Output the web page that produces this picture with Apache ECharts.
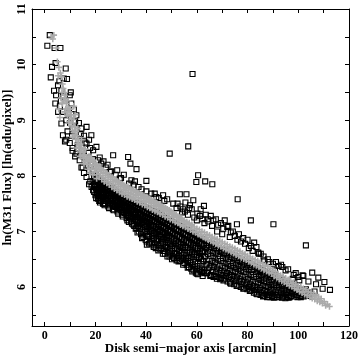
<!DOCTYPE html>
<html>
<head>
<meta charset="utf-8">
<script src="https://cdn.jsdelivr.net/npm/echarts@6/dist/echarts.min.js"></script>
<style>
  html, body { margin: 0; padding: 0; background: #fff; }
  #chart { width: 360px; height: 355px; }
</style>
</head>
<body>
<div id="chart"></div>
<script>
// tick positions / labels
var xTicks = [0, 10, 20, 30, 40, 50, 60, 70, 80, 90, 100, 110, 120]
var xLabels = [0, 20, 40, 60, 80, 100, 120]
var yTicks = [5.5, 6, 6.5, 7, 7.5, 8, 8.5, 9, 9.5, 10, 10.5, 11]
var yLabels = [6, 7, 8, 9, 10, 11]

// open squares, flat x,y lists
var sqSteep = [
  2,10.53, 1.05,10.34, 3.9,10.3, 6.2,10.3, 4.3,10.03, 2.9,9.96, 8.3,9.93, 2.4,9.77, 8.8,9.74,
  5.25,9.63, 3.7,9.53, 6.6,9.53, 10.3,9.5, 4.5,9.45, 7.2,9.43, 9.9,9.45, 4.2,9.3, 6,9.25,
  8.1,9.35, 10.5,9.3, 7,9.15, 11.5,9.2, 5.3,9.15, 12.5,9.09, 6.6,8.94, 8.5,9.0, 10,8.95,
  12,8.98, 13.5,8.95, 7.2,8.73, 9,8.8, 11,8.85, 14.5,8.85, 16.5,8.88, 8,8.62, 9.9,8.59,
  12,8.7, 15.5,8.72, 18.4,8.73, 11,8.5, 13,8.55, 16.5,8.58, 17.5,8.65, 20.4,8.52, 12.5,8.4,
  14.5,8.45, 19.1,8.46, 13.8,8.28, 15.5,8.35, 21,8.28, 21.7,8.33, 15,8.15, 16.5,7.98, 17.5,8.1,
  19,8.3, 18,7.9, 19.1,7.74, 20,7.85, 21,7.59, 22,7.7, 23,7.5, 8.5,8.65, 11,8.45, 12,8.35,
  14.5,8.15, 15.5,8.05, 17.5,7.85, 18.5,7.8, 20,7.65, 22,7.55, 5.8,9.7, 7.5,9.75, 6.4,9.35,
  9.3,9.12, 10.8,8.72, 13.2,8.62, 14.2,8.75, 16,8.6, 17.3,8.42, 18.3,8.2, 16.8,8.25, 17.9,8.5
]

var sqAbove = [
  27,8.37, 32.9,8.34, 33.8,8.22, 36.2,8.12, 25.7,8.07, 29.6,7.95, 34.2,7.92, 40.1,7.91,
  49.3,8.4, 56.6,8.53, 58.3,9.83, 60.5,8.01, 59.8,7.89, 63.3,7.9, 66.1,7.85, 33.3,7.86,
  43.4,7.68, 46.7,7.65, 40.1,7.72, 53.3,7.67, 55.9,7.67, 58.6,7.56, 50.7,7.5, 62.8,7.46,
  76.1,7.58, 81.3,7.2, 90.2,7.13, 75.8,7.13, 72.4,7.1, 103,6.75, 81.3,6.74, 84.5,6.6,
  86.6,6.48, 93.7,6.36, 97.8,6.15, 101.7,6.21, 105.5,6.26, 107.9,6.17, 110.3,6.09, 112.5,5.95,
  109.6,5.97, 106.4,5.92, 103,5.96, 100.4,6.12, 87.8,6.29, 90.8,6.3,
  22.3,8.22, 23.2,8.26, 24.1,8.15, 24.8,8.2, 26.2,8.08, 28,8.02, 28.6,8.1, 30.1,7.96,
  31.2,8.02, 35,7.84, 35.6,7.9, 37,7.8, 38.2,7.76, 42,7.68, 44,7.62, 45,7.6, 47.2,7.55,
  48.3,7.58, 52,7.42, 52.4,7.5, 53.5,7.45, 54.2,7.34, 54.5,7.4, 55.3,7.36, 55.5,7.52,
  56.5,7.3, 57,7.42, 57.3,7.47, 58,7.4, 59,7.25, 60,7.2, 60.2,7.32, 61.2,7.28, 61.5,7.4,
  62.2,7.22, 63,7.15, 63.5,7.3, 64.3,7.22, 64.5,7.18, 65.5,7.28, 66,7.1, 66.5,7.2, 67.5,7.22,
  68,7.0, 68.4,7.12, 69.5,7.15, 70,6.95, 70.4,7.05, 71,7.2, 72,7.08, 73,6.9, 73.4,6.98,
  74.2,7.0, 75,6.92, 76,6.85, 76.6,6.95, 77.4,6.82, 78.3,6.88, 79,6.78, 80,6.85, 80.5,6.7,
  82,6.65, 82.6,6.8, 83.5,6.72, 84.2,6.62, 85.2,6.6, 86.3,6.55, 88,6.5, 88.6,6.45, 90,6.42,
  91.2,6.45, 92.3,6.38, 93.2,6.4, 95,6.3, 96,6.32, 98.2,6.22, 99,6.25, 100,6.18, 102,6.2,
  104,6.1, 107,6.05
]

var sqCore = [
  19.2,8.08, 19.5,7.98, 18.9,7.9, 19.4,7.82,
  20.1,8.02, 20.4,7.94, 19.8,7.85, 20.2,7.77, 20.6,7.68,
  21.0,7.97, 21.3,7.9, 20.8,7.8, 21.2,7.72, 21.5,7.63,
  21.9,7.93, 22.2,7.86, 21.7,7.78, 22.1,7.7, 22.4,7.6, 21.8,7.52,
  22.8,7.9, 23.1,7.82, 22.6,7.75, 23.0,7.66, 23.3,7.58,
  23.7,7.87, 24.0,7.8, 23.5,7.71, 23.9,7.63, 24.2,7.55, 23.6,7.47,
  24.6,7.84, 24.9,7.76, 24.4,7.68, 24.8,7.6, 25.1,7.52,
  25.5,7.81, 25.8,7.73, 25.3,7.66, 25.7,7.58, 26.0,7.5, 25.4,7.42,
  26.4,7.78, 26.7,7.7, 26.2,7.63, 26.6,7.55, 26.9,7.47,
  27.3,7.75, 27.6,7.68, 27.1,7.6, 27.5,7.52, 27.8,7.44, 27.2,7.38,
  28.2,7.72, 28.5,7.65, 28.0,7.57, 28.4,7.5, 28.7,7.42,
  29.1,7.7, 29.4,7.62, 28.9,7.55, 29.3,7.47, 29.6,7.39, 29.0,7.32,
  30.0,7.67, 30.3,7.6, 29.8,7.52, 30.2,7.44, 30.5,7.36,
  30.9,7.64, 31.2,7.57, 30.7,7.49, 31.1,7.42, 31.4,7.33, 30.8,7.27,
  31.8,7.62, 32.1,7.54, 31.6,7.47, 32.0,7.39, 32.3,7.3,
  32.7,7.59, 33.0,7.52, 32.5,7.44, 32.9,7.37, 33.2,7.28, 32.6,7.2,
  33.6,7.57, 33.9,7.5, 33.4,7.42, 33.8,7.34, 34.1,7.25,
  34.5,7.55, 34.8,7.47, 34.3,7.4, 34.7,7.32, 35.0,7.23, 34.4,7.14,
  35.4,7.53, 35.7,7.45, 35.2,7.38, 35.6,7.3, 35.9,7.2, 35.3,7.1,
  36.3,7.51, 36.6,7.43, 36.1,7.35, 36.5,7.27, 36.8,7.17, 36.2,7.06,
  37.2,7.49, 37.5,7.41, 37.0,7.33, 37.4,7.25, 37.7,7.15, 37.1,7.0,
  38.1,7.47, 38.4,7.39, 37.9,7.31, 38.3,7.22, 38.6,7.12, 38.0,6.95,
  39.0,7.45, 39.3,7.37, 38.8,7.28, 39.2,7.2, 39.5,7.08, 38.9,6.9,
  39.9,7.43, 40.2,7.35, 39.7,7.26, 40.1,7.17, 40.4,7.05, 39.8,6.85, 40.3,6.76,
  40.8,7.41, 41.1,7.33, 40.6,7.24, 41.0,7.15, 41.3,7.02, 40.7,6.92,
  41.7,7.39, 42.0,7.31, 41.5,7.22, 41.9,7.12, 42.2,7.0, 41.6,6.8,
  42.6,7.37, 42.9,7.29, 42.4,7.2, 42.8,7.1, 43.1,6.97, 42.5,6.86, 43.0,6.72,
  43.5,7.35, 43.8,7.27, 43.3,7.18, 43.7,7.08, 44.0,6.95, 43.4,6.78,
  44.4,7.33, 44.7,7.25, 44.2,7.16, 44.6,7.05, 44.9,6.92, 44.3,6.82, 44.8,6.66,
  45.3,7.31, 45.6,7.23, 45.1,7.13, 45.5,7.02, 45.8,6.9, 45.2,6.75,
  46.2,7.29, 46.5,7.2, 46.0,7.1, 46.4,7.0, 46.7,6.87, 46.1,6.7, 46.6,6.6,
  47.1,7.26, 47.4,7.17, 46.9,7.08, 47.3,6.97, 47.6,6.84, 47.0,6.65,
  48.0,7.24, 48.3,7.15, 47.8,7.05, 48.2,6.94, 48.5,6.8, 47.9,6.72, 48.4,6.55,
  48.9,7.21, 49.2,7.12, 48.7,7.02, 49.1,6.92, 49.4,6.77, 48.8,6.62,
  49.8,7.19, 50.1,7.1, 49.6,7.0, 50.0,6.89, 50.3,6.74, 49.7,6.58, 50.2,6.5,
  50.7,7.17, 51.0,7.07, 50.5,6.97, 50.9,6.86, 51.2,6.7, 50.6,6.55,
  51.6,7.14, 51.9,7.05, 51.4,6.95, 51.8,6.83, 52.1,6.68, 51.5,6.6, 52.0,6.48,
  52.5,7.12, 52.8,7.02, 52.3,6.92, 52.7,6.8, 53.0,6.65, 52.4,6.52,
  53.4,7.1, 53.7,7.0, 53.2,6.9, 53.6,6.78, 53.9,6.62, 53.3,6.47,
  54.3,7.07, 54.6,6.97, 54.1,6.87, 54.5,6.75, 54.8,6.58, 54.2,6.5,
  55.2,7.05, 55.5,6.95, 55.0,6.84, 55.4,6.72, 55.7,6.55, 55.1,6.43,
  56.1,7.03, 56.4,6.93, 55.9,6.82, 56.3,6.7, 56.6,6.52, 56.0,6.4,
  57.0,7.0, 57.3,6.9, 56.8,6.79, 57.2,6.66, 57.5,6.48, 56.9,6.36,
  57.9,6.98, 58.2,6.88, 57.7,6.76, 58.1,6.63, 58.4,6.45, 57.8,6.33,
  58.8,6.95, 59.1,6.85, 58.6,6.73, 59.0,6.6, 59.3,6.42, 58.7,6.3,
  59.7,6.93, 60.0,6.83, 59.5,6.7, 59.9,6.57, 60.2,6.38, 59.6,6.26,
  60.6,6.9, 60.9,6.8, 60.4,6.68, 60.8,6.54, 61.1,6.35, 60.5,6.23,
  61.5,6.88, 61.8,6.77, 61.3,6.65, 61.7,6.5, 62.0,6.32,
  62.4,6.86, 62.7,6.75, 62.2,6.62, 62.6,6.47, 62.9,6.3, 62.3,6.2
]

var sqCore2 = [
  19.6,7.95, 19.7,7.83, 19.5,7.71,
  20.5,7.9, 20.7,7.74, 20.3,7.6,
  21.4,7.88, 21.6,7.76, 21.2,7.66, 21.5,7.55,
  22.3,7.84, 22.5,7.68, 22.1,7.56,
  23.2,7.8, 23.4,7.7, 23.0,7.62, 23.3,7.5,
  24.1,7.78, 24.3,7.65, 23.9,7.5,
  25.0,7.76, 25.2,7.64, 24.8,7.55, 25.1,7.45,
  25.9,7.72, 26.1,7.6, 25.7,7.48,
  26.8,7.7, 27.0,7.58, 26.6,7.5, 26.9,7.4,
  27.7,7.66, 27.9,7.55, 27.5,7.46,
  28.6,7.64, 28.8,7.53, 28.4,7.45, 28.7,7.36,
  29.5,7.6, 29.7,7.5, 29.3,7.42,
  30.4,7.58, 30.6,7.47, 30.2,7.38, 30.5,7.3,
  31.3,7.55, 31.5,7.45, 31.1,7.35,
  32.2,7.53, 32.4,7.42, 32.0,7.33, 32.3,7.24,
  33.1,7.5, 33.3,7.4, 32.9,7.3, 33.2,7.17,
  34.0,7.48, 34.2,7.38, 33.8,7.27, 34.1,7.18,
  34.9,7.46, 35.1,7.35, 34.7,7.26, 35.0,7.12,
  35.8,7.44, 36.0,7.33, 35.6,7.22, 35.9,7.05,
  36.7,7.42, 36.9,7.31, 36.5,7.2, 36.8,7.1, 36.6,6.98,
  37.6,7.4, 37.8,7.29, 37.4,7.18, 37.7,7.05,
  38.5,7.38, 38.7,7.27, 38.3,7.15, 38.6,7.0, 38.4,6.88,
  39.4,7.35, 39.6,7.24, 39.2,7.12, 39.5,6.98,
  40.3,7.33, 40.5,7.22, 40.1,7.1, 40.4,6.95, 40.2,6.82,
  41.2,7.31, 41.4,7.2, 41.0,7.08, 41.3,6.9, 41.1,6.78,
  42.1,7.29, 42.3,7.18, 41.9,7.05, 42.2,6.92,
  43.0,7.27, 43.2,7.16, 42.8,7.03, 43.1,6.88, 42.9,6.75,
  43.9,7.25, 44.1,7.13, 43.7,7.0, 44.0,6.85, 43.8,6.7,
  44.8,7.22, 45.0,7.11, 44.6,6.98, 44.9,6.86,
  45.7,7.2, 45.9,7.08, 45.5,6.95, 45.8,6.8, 45.6,6.68,
  46.6,7.18, 46.8,7.06, 46.4,6.93, 46.7,6.78,
  47.5,7.16, 47.7,7.04, 47.3,6.9, 47.6,6.75, 47.4,6.6,
  48.4,7.13, 48.6,7.01, 48.2,6.88, 48.5,6.7,
  49.3,7.11, 49.5,6.99, 49.1,6.85, 49.4,6.68, 49.2,6.55,
  50.2,7.09, 50.4,6.96, 50.0,6.82, 50.3,6.65,
  51.1,7.07, 51.3,6.94, 50.9,6.8, 51.2,6.62, 51.0,6.52,
  52.0,7.04, 52.2,6.92, 51.8,6.77, 52.1,6.6,
  52.9,7.02, 53.1,6.89, 52.7,6.75, 53.0,6.57, 52.8,6.46,
  53.8,7.0, 54.0,6.87, 53.6,6.72, 53.9,6.55,
  54.7,6.98, 54.9,6.85, 54.5,6.7, 54.8,6.52, 54.6,6.4,
  55.6,6.95, 55.8,6.82, 55.4,6.67, 55.7,6.5,
  56.5,6.93, 56.7,6.8, 56.3,6.64, 56.6,6.47, 56.4,6.35,
  57.4,6.91, 57.6,6.78, 57.2,6.62, 57.5,6.44,
  58.3,6.89, 58.5,6.75, 58.1,6.6, 58.4,6.4, 58.2,6.28,
  59.2,6.86, 59.4,6.73, 59.0,6.57, 59.3,6.37,
  60.1,6.84, 60.3,6.7, 59.9,6.54, 60.2,6.33, 60.0,6.24,
  61.0,6.82, 61.2,6.68, 60.8,6.52, 61.1,6.3,
  61.9,6.8, 62.1,6.65, 61.7,6.5, 62.0,6.27,
  62.8,6.77, 63.0,6.63, 62.6,6.46, 62.9,6.25
]

var sqTail = [
  63.5,6.83, 63.8,6.7, 63.2,6.55, 63.7,6.4, 64.0,6.25,
  64.8,6.8, 65.1,6.66, 64.6,6.5, 65.0,6.35, 65.3,6.2,
  66.1,6.77, 66.4,6.62, 65.9,6.47, 66.3,6.3, 66.6,6.18,
  67.4,6.74, 67.7,6.6, 67.2,6.44, 67.6,6.28, 67.9,6.15,
  68.7,6.7, 69.0,6.56, 68.5,6.4, 68.9,6.25, 69.2,6.14,
  70.0,6.67, 70.3,6.52, 69.8,6.38, 70.2,6.22, 70.5,6.12,
  71.3,6.64, 71.6,6.5, 71.1,6.35, 71.5,6.2,
  72.6,6.61, 72.9,6.46, 72.4,6.32, 72.8,6.18, 73.1,6.08,
  73.9,6.58, 74.2,6.43, 73.7,6.3, 74.1,6.15,
  75.2,6.55, 75.5,6.4, 75.0,6.27, 75.4,6.12, 75.7,6.02,
  76.5,6.52, 76.8,6.38, 76.3,6.24, 76.7,6.1,
  77.8,6.49, 78.1,6.35, 77.6,6.2, 78.0,6.06, 78.3,5.97,
  79.1,6.46, 79.4,6.32, 78.9,6.18, 79.3,6.03,
  80.4,6.43, 80.7,6.3, 80.2,6.15, 80.6,6.0, 80.9,5.93,
  81.7,6.4, 82.0,6.27, 81.5,6.12, 81.9,5.98,
  83.0,6.37, 83.3,6.24, 82.8,6.1, 83.2,5.95, 83.5,5.88,
  84.3,6.34, 84.6,6.2, 84.1,6.07, 84.5,5.92,
  85.6,6.31, 85.9,6.17, 85.4,6.04, 85.8,5.9, 86.1,5.83,
  86.9,6.28, 87.2,6.15, 86.7,6.02, 87.1,5.88,
  88.2,6.25, 88.5,6.12, 88.0,6.0, 88.4,5.86,
  89.5,6.22, 89.8,6.1, 89.3,5.97, 89.7,5.84,
  90.8,6.19, 91.1,6.07, 90.6,5.95, 91.0,5.82,
  92.1,6.16, 92.4,6.04, 91.9,5.92, 92.3,5.82,
  93.4,6.13, 93.7,6.02, 93.2,5.9, 93.6,5.81,
  94.7,6.1, 95.0,5.99, 94.5,5.88, 94.9,5.8,
  96.0,6.07, 96.3,5.97, 95.8,5.86, 96.2,5.81,
  97.3,6.04, 97.6,5.94, 97.1,5.84,
  98.6,6.01, 98.9,5.92, 98.4,5.83,
  99.9,5.98, 100.2,5.9, 99.7,5.82,
  101.2,5.95, 101.5,5.87, 101.0,5.82,
  102.5,5.93, 102.8,5.85,
  103.8,5.9, 104.1,5.84,
  105.1,5.88, 105.4,5.83
]

var sqTail2 = [
  64.2,6.75, 64.4,6.6, 64.1,6.42, 64.3,6.28,
  65.5,6.72, 65.7,6.56, 65.4,6.4, 65.6,6.22,
  66.8,6.7, 67.0,6.53, 66.7,6.36, 66.9,6.2,
  68.1,6.66, 68.3,6.5, 68.0,6.33, 68.2,6.18,
  69.4,6.63, 69.6,6.47, 69.3,6.3, 69.5,6.16,
  70.7,6.6, 70.9,6.44, 70.6,6.28, 70.8,6.15,
  72.0,6.57, 72.2,6.41, 71.9,6.25, 72.1,6.1,
  73.3,6.54, 73.5,6.38, 73.2,6.22, 73.4,6.06,
  74.6,6.51, 74.8,6.35, 74.5,6.2, 74.7,6.05,
  75.9,6.48, 76.1,6.33, 75.8,6.17, 76.0,6.03,
  77.2,6.45, 77.4,6.3, 77.1,6.14, 77.3,6.0,
  78.5,6.42, 78.7,6.27, 78.4,6.12, 78.6,5.98,
  79.8,6.39, 80.0,6.24, 79.7,6.08, 79.9,5.96,
  81.1,6.36, 81.3,6.22, 81.0,6.05, 81.2,5.94,
  82.4,6.33, 82.6,6.18, 82.3,6.02, 82.5,5.9,
  83.7,6.3, 83.9,6.15, 83.6,6.0, 83.8,5.87,
  85.0,6.27, 85.2,6.13, 84.9,5.98, 85.1,5.86,
  86.3,6.24, 86.5,6.1, 86.2,5.95, 86.4,5.84,
  87.6,6.21, 87.8,6.07, 87.5,5.93, 87.7,5.82,
  88.9,6.18, 89.1,6.04, 88.8,5.9, 89.0,5.82,
  90.2,6.15, 90.4,6.01, 90.1,5.88, 90.3,5.81,
  91.5,6.12, 91.7,5.99, 91.4,5.86,
  92.8,6.09, 93.0,5.96, 92.7,5.85,
  94.1,6.06, 94.3,5.94, 94.0,5.83,
  95.4,6.03, 95.6,5.92, 95.3,5.82,
  96.7,6.0, 96.9,5.9, 96.6,5.82,
  98.0,5.97, 98.2,5.88,
  99.3,5.95, 99.5,5.86,
  100.6,5.92, 100.8,5.84,
  101.9,5.9, 102.1,5.83,
  103.2,5.88
]

// grey crosses
var gxSteep = [
  2.6,10.5, 3.2,10.46, 3.6,10.53, 4.6,10.3, 5.0,10.05, 5.6,9.95, 6.2,9.85, 6.6,9.78, 5.3,9.8,
  7.0,9.65, 7.3,9.57, 6.8,9.5, 7.8,9.45, 8.2,9.38, 7.5,9.35, 8.6,9.3, 9.2,9.22, 8.3,9.2,
  9.6,9.15, 10.2,9.1, 9.0,9.08, 10.6,9.02, 9.8,8.98, 11.2,8.95, 10.4,8.9, 11.8,8.88, 11.0,8.82,
  12.3,8.8, 11.6,8.74, 12.8,8.72, 12.2,8.66, 13.4,8.65, 12.8,8.58, 14.0,8.57, 13.4,8.5,
  14.6,8.5, 14.0,8.43, 15.2,8.44, 14.7,8.37, 15.8,8.38, 15.3,8.31, 16.4,8.33, 16.0,8.26,
  17.0,8.28, 16.7,8.21, 17.5,8.2, 8.0,9.5, 9.0,9.35, 10.0,9.2, 11.5,9.05, 13,8.85, 14.5,8.65,
  16,8.48, 17.5,8.35, 7.0,9.3, 8.0,9.15, 9.5,8.95, 11,8.7, 12.5,8.5, 14,8.35, 15.5,8.22,
  17,8.12, 18,8.3, 19,8.25, 20,8.18, 17.8,8.05, 19,8.02, 20.5,7.95, 5.5,9.2, 6,9.05,
  6.5,9.4, 11.5,9.25, 12,9.1
]

var gxUpper = [
  18.3,8.33, 19.0,8.28, 19.7,8.24, 20.4,8.2, 21.1,8.17, 21.8,8.14, 22.5,8.11, 23.2,8.09,
  23.9,8.06, 24.6,8.04, 25.3,8.01, 26.0,7.99, 26.7,7.97, 27.4,7.94, 28.1,7.92, 28.8,7.9,
  29.5,7.88, 30.2,7.86, 30.9,7.84, 31.6,7.82, 32.3,7.8, 33.0,7.79, 33.7,7.77, 34.4,7.75,
  35.1,7.74, 35.8,7.72, 36.5,7.7, 37.2,7.69, 37.9,7.67, 38.6,7.65, 39.3,7.63, 40.0,7.62,
  40.7,7.6, 41.4,7.58, 42.1,7.56, 42.8,7.55, 43.5,7.53, 44.2,7.51, 44.9,7.49, 45.6,7.47,
  46.3,7.45, 47.0,7.44, 47.7,7.42, 48.4,7.4, 49.1,7.38, 49.8,7.36, 50.5,7.33, 51.2,7.31,
  51.9,7.29, 52.6,7.27, 53.3,7.25, 54.0,7.23, 55.0,7.2, 56.0,7.17, 57.0,7.15, 58.0,7.12
]

var gxBand = [
  18.0,8.26, 18.5,8.14, 19.0,8.19, 19.5,8.07, 20.0,8.12, 20.5,8.02, 21.0,8.08, 21.5,7.98,
  22.0,8.04, 22.5,7.94, 23.0,8.0, 23.5,7.9, 24.0,7.97, 24.5,7.87, 25.0,7.94, 25.5,7.84,
  26.0,7.9, 26.5,7.8, 27.0,7.87, 27.5,7.77, 28.0,7.84, 28.5,7.74, 29.0,7.81, 29.5,7.71,
  30.0,7.78, 30.5,7.68, 31.0,7.75, 31.5,7.66, 32.0,7.73, 32.5,7.63, 33.0,7.7, 33.5,7.61,
  34.0,7.68, 34.5,7.59, 35.0,7.66, 35.5,7.57, 36.0,7.64, 36.5,7.54, 37.0,7.61, 37.5,7.52,
  38.0,7.59, 38.5,7.49, 39.0,7.56, 39.5,7.47, 40.0,7.54, 40.5,7.44, 41.0,7.52, 41.5,7.42,
  42.0,7.5, 42.5,7.39, 43.0,7.47, 43.5,7.37, 44.0,7.45, 44.5,7.35, 45.0,7.42, 45.5,7.32,
  46.0,7.4, 46.5,7.3, 47.0,7.37, 47.5,7.27, 48.0,7.35, 48.5,7.25, 49.0,7.32, 49.5,7.22,
  50.0,7.3, 50.5,7.2, 51.0,7.27, 51.5,7.17, 52.0,7.25, 52.5,7.15, 53.0,7.22, 53.5,7.12,
  54.0,7.2, 54.5,7.1, 55.0,7.18, 55.5,7.08, 56.0,7.15, 56.5,7.05, 57.0,7.13, 57.5,7.03,
  58.0,7.1, 58.5,7.0, 59.0,7.08, 59.5,6.98, 60.0,7.05, 60.5,6.95, 61.0,7.03, 61.5,6.93,
  62.0,7.0, 62.5,6.9, 63.0,6.98, 63.5,6.88, 64.0,6.95, 64.5,6.85, 65.0,6.93, 65.5,6.83,
  66.0,6.9, 66.5,6.8, 67.0,6.88, 67.5,6.78, 68.0,6.86, 68.5,6.75, 69.0,6.83, 69.5,6.73,
  70.0,6.81, 70.5,6.7, 71.0,6.78, 71.5,6.68, 72.0,6.76, 72.5,6.66, 73.0,6.73, 73.5,6.63,
  74.0,6.71, 74.5,6.61, 75.0,6.69, 75.5,6.58, 76.0,6.66, 76.5,6.56, 77.0,6.64, 77.5,6.53,
  78.0,6.61, 78.5,6.51, 79.0,6.59, 79.5,6.49, 80.0,6.56, 80.5,6.46, 81.0,6.54, 81.5,6.44,
  82.0,6.51, 82.5,6.41, 83.0,6.49, 83.5,6.39, 84.0,6.47, 84.5,6.36, 85.0,6.44, 85.5,6.34,
  86.0,6.42, 86.5,6.31, 87.0,6.39, 87.5,6.29, 88.0,6.37, 88.5,6.26, 89.0,6.34, 89.5,6.24,
  90.0,6.3, 90.5,6.2, 91.0,6.27, 91.5,6.17, 92.0,6.24, 92.5,6.14, 93.0,6.21, 93.5,6.11,
  94.0,6.19, 94.5,6.09, 95.0,6.16, 95.5,6.06, 96.0,6.13, 96.5,6.03, 97.0,6.11, 97.5,6.01,
  98.0,6.08, 98.5,5.98, 99.0,6.05, 99.5,5.95, 100.0,6.02, 100.5,5.92, 101.0,6.0, 101.5,5.9,
  102.0,5.97, 102.5,5.87, 103.0,5.95, 103.5,5.85, 104.0,5.92, 104.5,5.82, 105.0,5.9, 105.5,5.8,
  106.0,5.87, 106.5,5.78, 107.0,5.85, 107.5,5.75, 108.0,5.82, 108.5,5.73, 109.0,5.79, 109.5,5.71,
  110.2,5.74, 110.8,5.67, 111.5,5.69, 112.3,5.65
]

function pairs(flat) {
  var out = []
  for (var i = 0; i < flat.length; i += 2) out.push([flat[i], flat[i + 1]])
  return out
}

var FONT = 'Liberation Serif'
var squares = pairs(sqSteep).concat(pairs(sqAbove), pairs(sqCore), pairs(sqCore2), pairs(sqTail), pairs(sqTail2))
var crosses = pairs(gxSteep).concat(pairs(gxUpper), pairs(gxBand))
var plus = 'path://M3.8,0H6.2V3.8H10V6.2H6.2V10H3.8V6.2H0V3.8H3.8Z'

function xAxisOpt(pos, showLabel) {
  return {
    type: 'value', position: pos, min: -5, max: 120,
    name: showLabel ? 'Disk semi\u2212major axis [arcmin]' : '',
    nameLocation: 'middle', nameGap: 16, nameMoveOverlap: false,
    nameTextStyle: { fontFamily: FONT, fontWeight: 'bold', fontSize: 13, color: '#000' },
    axisLine: { show: true, onZero: false, lineStyle: { color: '#000', width: 1 } },
    axisTick: { show: true, inside: true, length: 4, customValues: xTicks, lineStyle: { color: '#000' } },
    axisLabel: { show: showLabel, customValues: xLabels, margin: 4, fontFamily: FONT, fontWeight: 'bold', fontSize: 12, color: '#000' },
    splitLine: { show: false }
  }
}

function yAxisOpt(pos, showLabel) {
  return {
    type: 'value', position: pos, min: 5.3, max: 11,
    name: showLabel ? 'ln(M31 Flux) [ln(adu/pixel)]' : '',
    nameLocation: 'middle', nameGap: 18, nameRotate: 90, nameMoveOverlap: false,
    nameTextStyle: { fontFamily: FONT, fontWeight: 'bold', fontSize: 13, color: '#000' },
    axisLine: { show: true, onZero: false, lineStyle: { color: '#000', width: 1 } },
    axisTick: { show: true, inside: true, length: 4, customValues: yTicks, lineStyle: { color: '#000' } },
    axisLabel: {
      show: showLabel, customValues: yLabels, rotate: 90, margin: 4,
      align: 'center', verticalAlign: 'bottom',
      fontFamily: FONT, fontWeight: 'bold', fontSize: 12, color: '#000'
    },
    splitLine: { show: false }
  }
}

var chart = echarts.init(document.getElementById('chart'))
chart.setOption({
  animation: false,
  backgroundColor: '#fff',
  grid: { left: 32, right: 11, top: 9, bottom: 29, outerBoundsMode: 'none' },
  xAxis: [xAxisOpt('bottom', true), xAxisOpt('top', false)],
  yAxis: [yAxisOpt('left', true), yAxisOpt('right', false)],
  series: [
    {
      type: 'scatter', data: squares, symbol: 'rect', symbolSize: 5,
      itemStyle: { color: 'rgba(0,0,0,0)', borderColor: '#000', borderWidth: 1.1, opacity: 1 }
    },
    {
      type: 'scatter', data: crosses, symbol: plus, symbolSize: 6.5,
      itemStyle: { color: '#aaaaaa', opacity: 1 }
    }
  ]
})
</script>
</body>
</html>
